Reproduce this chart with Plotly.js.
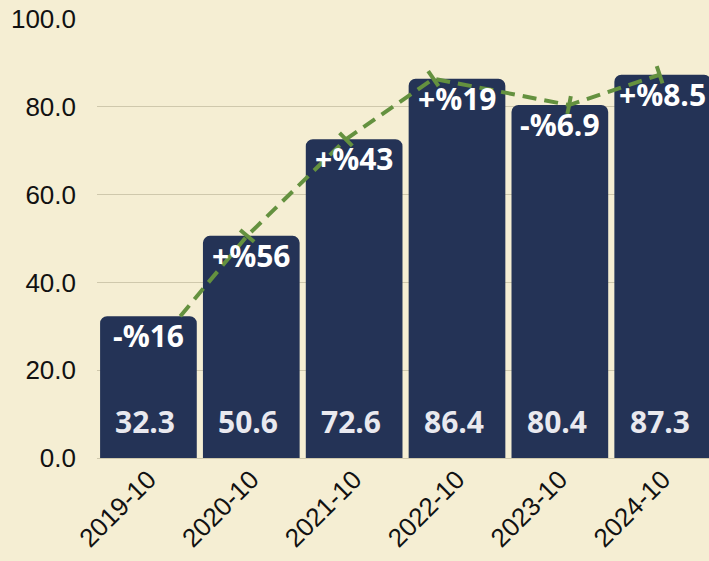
<!DOCTYPE html>
<html>
<head>
<meta charset="utf-8">
<script src="https://cdn.plot.ly/plotly-3.0.1.min.js"></script>
<style>
html,body{margin:0;padding:0;background:#f5eed3;}
#chart{width:709px;height:561px;}
</style>
</head>
<body>
<div id="chart"></div>
<script>
const categories = ["2019-10", "2020-10", "2021-10", "2022-10", "2023-10", "2024-10"];
const values = [32.3, 50.6, 72.6, 86.4, 80.4, 87.3];
const changeLabels = ["-%16", "+%56", "+%43", "+%19", "-%6.9", "+%8.5"];
// line points positions (category index + offset)
const lineX = [0.31, 0.96, 1.92, 2.77, 4.09, 4.97];
const lineY = [32.3, 50.6, 72.6, 86.4, 80.4, 87.3];
const yTicks = [0, 20, 40, 60, 80, 100];

const BG = "#f5eed3";
const BAR = "#243356";
const GREEN = "#64913f";

const bars = {
  type: "bar",
  x: categories,
  y: values,
  marker: {color: BAR, cornerradius: 7, line: {width: 0}},
  hoverinfo: "skip",
  xaxis: "x", yaxis: "y"
};

const line = {
  type: "scatter",
  mode: "lines+markers",
  x: lineX,
  y: lineY,
  xaxis: "x2", yaxis: "y",
  line: {color: GREEN, width: 4, dash: "14px,8px"},
  marker: {symbol: "line-ew-open", size: 13, angleref: "previous", color: GREEN, line: {color: GREEN, width: 4}},
  hoverinfo: "skip",
  cliponaxis: false
};

const annotations = [];
values.forEach((v, i) => {
  annotations.push({
    x: categories[i], y: 0, xref: "x", yref: "y",
    text: v.toFixed(1), showarrow: false,
    yanchor: "bottom", yshift: 14, xshift: -3,
    font: {family: "Open Sans", size: 30, color: "#e9e9ef", weight: 700}
  });
  annotations.push({
    x: categories[i], y: v, xref: "x", yref: "y",
    text: changeLabels[i], showarrow: false,
    yanchor: "top", yshift: 3,
    font: {family: "Open Sans", size: 30, color: "#ffffff", weight: 700}
  });
});

const layout = {
  width: 709, height: 561,
  paper_bgcolor: BG, plot_bgcolor: BG,
  margin: {l: 97, r: 0, t: 19, b: 103},
  showlegend: false,
  bargap: 0.06,
  xaxis: {
    type: "category",
    range: [-0.5, 5.45],
    tickangle: -45,
    tickfont: {family: "Liberation Sans", size: 26, color: "#111111"},
    showgrid: false, zeroline: false, showline: false,
    ticks: ""
  },
  xaxis2: {
    overlaying: "x", range: [-0.5, 5.45], visible: false, showgrid: false
  },
  yaxis: {
    range: [0, 100],
    tickvals: yTicks,
    ticktext: yTicks.map(t => t.toFixed(1)),
    tickfont: {family: "Liberation Sans", size: 26, color: "#111111"},
    ticklabelstandoff: 20,
    gridcolor: "#cfc8ac", gridwidth: 1,
    zeroline: true, zerolinecolor: "#cfc8ac",
    showline: false, ticks: ""
  },
  annotations: annotations
};

Plotly.newPlot("chart", [bars, line], layout, {displayModeBar: false, staticPlot: true});
</script>
</body>
</html>
